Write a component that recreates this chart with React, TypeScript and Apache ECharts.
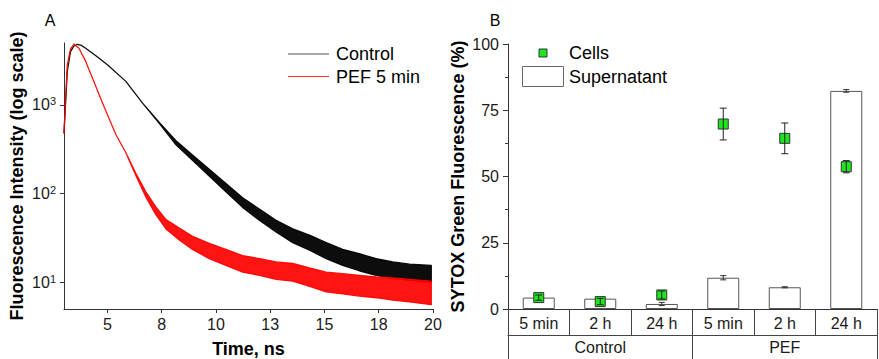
import React, { useEffect, useRef } from "react";
import * as echarts from "echarts";

// ---------- Panel A: fluorescence decay (log scale) ----------
const ctrlTime = [3.0, 3.15, 3.3, 3.45, 3.62, 3.8, 4.0, 4.5, 5.0, 5.85, 6.62, 7.39, 8.16, 8.92, 9.69, 10.46, 11.23, 12.0, 12.77, 13.54, 14.31, 15.08, 15.84, 16.6, 17.38, 18.15, 18.92, 19.92];
const ctrlLow = [484, 2390, 4000, 4600, 4840, 4700, 4370, 3550, 2840, 1845, 1050, 620, 355, 238, 158, 105, 70, 50, 37, 28, 23, 18.5, 15.5, 13.5, 12, 11, 10.5, 10];
const ctrlHigh = [484, 2390, 4000, 4600, 4840, 4700, 4370, 3550, 2840, 1845, 1050, 636, 395, 272, 188, 130, 90, 67, 50, 40, 34, 28, 23.5, 21, 18.5, 17, 16, 15.5];

const pefTime = [3.0, 3.15, 3.3, 3.46, 3.69, 4.0, 4.31, 4.62, 5.0, 5.39, 5.85, 6.31, 6.77, 7.23, 7.7, 8.31, 8.92, 9.69, 10.46, 11.23, 12.0, 12.77, 13.54, 14.31, 15.08, 15.84, 16.6, 17.38, 18.15, 18.92, 19.92];
const pefLow = [484, 2800, 4300, 4840, 4370, 3100, 2010, 1305, 778, 464, 289, 160, 92, 58, 40, 30, 23.5, 18.5, 15.5, 13, 12, 10.8, 10.3, 9, 7.8, 7.4, 7, 6.7, 6.3, 6, 5.6];
const pefHigh = [484, 2800, 4300, 4840, 4370, 3100, 2010, 1305, 778, 464, 289, 170, 105, 71, 51, 41, 33, 27.5, 23.5, 20, 18.5, 17, 16.3, 14.5, 13, 12.5, 12, 11.5, 11.2, 10.8, 10.3];

const xTickValues = [5, 7.5, 10, 12.5, 15, 17.5, 20];
const xTickLabels = ["5", "8", "10", "13", "15", "18", "20"];
const yTickValues = [10, 100, 1000];
const yTickExponents = ["1", "2", "3"];

// ---------- Panel B: SYTOX Green fluorescence ----------
const timeCategories = ["5 min", "2 h", "24 h", "5 min", "2 h", "24 h"];
const groupCategories = ["Control", "PEF"];
const supernatant = [4.3, 3.9, 1.9, 11.8, 8.2, 82.3];
const supernatantErr = [0.3, 0.3, 0.6, 0.8, 0.2, 0.5];
const cells = [4.3, 2.8, 5.3, 69.8, 64.4, 53.7];
const cellsErr = [1.0, 1.2, 1.5, 6.0, 5.8, 2.3];

const FONT = "'Liberation Sans', Arial, sans-serif";
const TXT = "#1a1a1a";
const AX = "#333";

const nameStyle = { fontSize: 18, fontWeight: "bold", color: "#000", fontFamily: FONT };

function bandRender(t: number[], lo: number[], hi: number[], color: string, opacity: number) {
  return (params: any, api: any) => {
    const pts: number[][] = [];
    for (let i = 0; i < t.length; i++) pts.push(api.coord([t[i], hi[i]]));
    for (let i = t.length - 1; i >= 0; i--) pts.push(api.coord([t[i], lo[i]]));
    return {
      type: "polygon",
      shape: { points: pts },
      style: { fill: color, stroke: color, lineWidth: 1.3, opacity, lineJoin: "round" },
    };
  };
}

function errRender(capW: number, color: string) {
  return (params: any, api: any) => {
    const x = api.value(0);
    const lo = api.coord([x, api.value(1)]);
    const hi = api.coord([x, api.value(2)]);
    const cx = lo[0];
    const st = { stroke: color, lineWidth: 1 };
    return {
      type: "group",
      children: [
        { type: "line", shape: { x1: cx, y1: lo[1], x2: cx, y2: hi[1] }, style: st },
        { type: "line", shape: { x1: cx - capW / 2, y1: lo[1], x2: cx + capW / 2, y2: lo[1] }, style: st },
        { type: "line", shape: { x1: cx - capW / 2, y1: hi[1], x2: cx + capW / 2, y2: hi[1] }, style: st },
      ],
    };
  };
}

// Panel A chart (full-size transparent layer)
function optionA(): any {
  return {
    animation: false,
    textStyle: { fontFamily: FONT },
    grid: { left: 64, top: 43, width: 369, height: 266, containLabel: false, outerBoundsMode: "none" },
    xAxis: {
      type: "value",
      min: 3,
      max: 20,
      name: "Time, ns",
      nameLocation: "middle",
      nameGap: 31,
      nameTextStyle: nameStyle,
      axisLine: { onZero: false, lineStyle: { color: AX, width: 1 } },
      axisTick: { show: true, length: 4, customValues: xTickValues, lineStyle: { color: AX } },
      axisLabel: {
        customValues: xTickValues,
        fontSize: 16,
        color: TXT,
        margin: 7,
        fontFamily: FONT,
        formatter: (v: number) => {
          const i = xTickValues.findIndex((t) => Math.abs(t - v) < 1e-6);
          return i >= 0 ? xTickLabels[i] : "";
        },
      },
      splitLine: { show: false },
    },
    yAxis: {
      type: "log",
      logBase: 10,
      min: 5,
      max: 5000,
      name: "Fluorescence Intensity (log scale)",
      nameLocation: "middle",
      nameGap: 38,
      nameTextStyle: nameStyle,
      axisLine: { show: true, onZero: false, lineStyle: { color: AX, width: 1 } },
      axisTick: { show: true, length: 4, customValues: yTickValues, lineStyle: { color: AX } },
      axisLabel: {
        customValues: yTickValues,
        fontSize: 16,
        color: TXT,
        margin: 8,
        fontFamily: FONT,
        formatter: (v: number) => {
          const i = yTickValues.findIndex((t) => Math.abs(t - v) < 1e-6 * t);
          return i >= 0 ? `{b|10}{s|${yTickExponents[i]}}` : "";
        },
        rich: {
          b: { fontSize: 16, color: TXT, fontFamily: FONT, lineHeight: 18 },
          s: { fontSize: 11, color: TXT, fontFamily: FONT, verticalAlign: "top", lineHeight: 11, padding: [0, 0, 6, 0] },
        },
      },
      splitLine: { show: false },
    },
    series: [
      {
        name: "Control",
        type: "custom",
        data: [[ctrlTime[0], ctrlLow[0]]],
        renderItem: bandRender(ctrlTime, ctrlLow, ctrlHigh, "#000000", 0.95),
        z: 2,
      },
      {
        name: "PEF 5 min",
        type: "custom",
        data: [[pefTime[0], pefLow[0]]],
        renderItem: bandRender(pefTime, pefLow, pefHigh, "#ff0000", 0.92),
        z: 3,
      },
    ],
    graphic: [
      { type: "text", x: 50, y: 20, style: { text: "A", fontSize: 16, fontFamily: FONT, fill: "#000", align: "center", verticalAlign: "middle" } },
      { type: "line", shape: { x1: 288, y1: 54, x2: 329, y2: 54 }, style: { stroke: "#555", lineWidth: 1.2 } },
      { type: "text", x: 336, y: 54, style: { text: "Control", fontSize: 18, fontFamily: FONT, fill: "#000", verticalAlign: "middle" } },
      { type: "line", shape: { x1: 288, y1: 76.5, x2: 329, y2: 76.5 }, style: { stroke: "#ff3030", lineWidth: 1.2 } },
      { type: "text", x: 336, y: 77, style: { text: "PEF 5 min", fontSize: 18, fontFamily: FONT, fill: "#000", verticalAlign: "middle" } },
    ],
  };
}

// Panel B chart (full-size transparent layer, same page coordinates)
function optionB(): any {
  return {
    animation: false,
    textStyle: { fontFamily: FONT },
    grid: { left: 508, top: 44, width: 369, height: 265, containLabel: false, outerBoundsMode: "none" },
    xAxis: [
      {
        type: "category",
        data: timeCategories,
        boundaryGap: true,
        axisLine: { lineStyle: { color: AX, width: 1 } },
        axisTick: { show: true, length: 26, interval: 0, alignWithLabel: false, lineStyle: { color: "#444" } },
        axisLabel: { fontSize: 16, color: TXT, margin: 6, interval: 0, fontFamily: FONT },
      },
      {
        type: "category",
        data: groupCategories,
        position: "bottom",
        offset: 26,
        boundaryGap: true,
        axisLine: { show: true, lineStyle: { color: "#444", width: 1 } },
        axisTick: { show: true, length: 26, interval: 0, alignWithLabel: false, lineStyle: { color: "#444" } },
        axisLabel: { fontSize: 16, color: TXT, margin: 4, interval: 0, fontFamily: FONT },
      },
    ],
    yAxis: {
      type: "value",
      min: 0,
      max: 100,
      interval: 25,
      name: "SYTOX Green Fluorescence (%)",
      nameLocation: "middle",
      nameGap: 41,
      nameTextStyle: nameStyle,
      axisLine: { show: true, lineStyle: { color: AX, width: 1 } },
      axisTick: { show: true, length: 5, lineStyle: { color: AX } },
      minorTick: { show: true, splitNumber: 2, length: 3, lineStyle: { color: AX } },
      axisLabel: { fontSize: 16, color: TXT, margin: 9, fontFamily: FONT },
      splitLine: { show: false },
    },
    series: [
      {
        name: "Supernatant",
        type: "bar",
        xAxisIndex: 0,
        data: supernatant,
        barWidth: 32,
        itemStyle: { color: "#ffffff", borderColor: "#555", borderWidth: 1 },
        z: 2,
      },
      {
        name: "Supernatant error",
        type: "custom",
        xAxisIndex: 0,
        data: supernatant.map((v, i) => [i, v - supernatantErr[i], v + supernatantErr[i]]),
        renderItem: errRender(6, "#333"),
        z: 3,
      },
      {
        name: "Cells",
        type: "scatter",
        xAxisIndex: 0,
        data: cells,
        symbol: "rect",
        symbolSize: 10,
        itemStyle: { color: "#1ee61e", borderColor: "#333", borderWidth: 1, opacity: 1 },
        z: 4,
      },
      {
        name: "Cells error",
        type: "custom",
        xAxisIndex: 0,
        data: cells.map((v, i) => [i, v - cellsErr[i], v + cellsErr[i]]),
        renderItem: errRender(7, "#222"),
        z: 5,
      },
    ],
    graphic: [
      { type: "text", x: 495, y: 20, style: { text: "B", fontSize: 16, fontFamily: FONT, fill: "#000", align: "center", verticalAlign: "middle" } },
      { type: "rect", shape: { x: 539, y: 49, width: 8, height: 8 }, style: { fill: "#1ee61e", stroke: "#333", lineWidth: 1 } },
      { type: "text", x: 569, y: 53, style: { text: "Cells", fontSize: 18, fontFamily: FONT, fill: "#000", verticalAlign: "middle" } },
      { type: "rect", shape: { x: 522.5, y: 66.5, width: 41, height: 20 }, style: { fill: "#fff", stroke: "#666", lineWidth: 1 } },
      { type: "text", x: 569, y: 77, style: { text: "Supernatant", fontSize: 18, fontFamily: FONT, fill: "#000", verticalAlign: "middle" } },
    ],
  };
}

export default function App() {
  const refA = useRef<HTMLDivElement>(null);
  const refB = useRef<HTMLDivElement>(null);

  useEffect(() => {
    if (!refA.current || !refB.current) return;
    const chartA = echarts.init(refA.current, null, { renderer: "svg" });
    const chartB = echarts.init(refB.current, null, { renderer: "svg" });
    chartA.setOption(optionA());
    chartB.setOption(optionB());
    return () => {
      chartA.dispose();
      chartB.dispose();
    };
  }, []);

  return (
    <div style={{ position: "fixed", left: 0, top: 0, width: 879, height: 359, background: "#fff" }}>
      <div ref={refA} style={{ position: "absolute", left: 0, top: 0, width: 879, height: 359 }} />
      <div ref={refB} style={{ position: "absolute", left: 0, top: 0, width: 879, height: 359 }} />
    </div>
  );
}
